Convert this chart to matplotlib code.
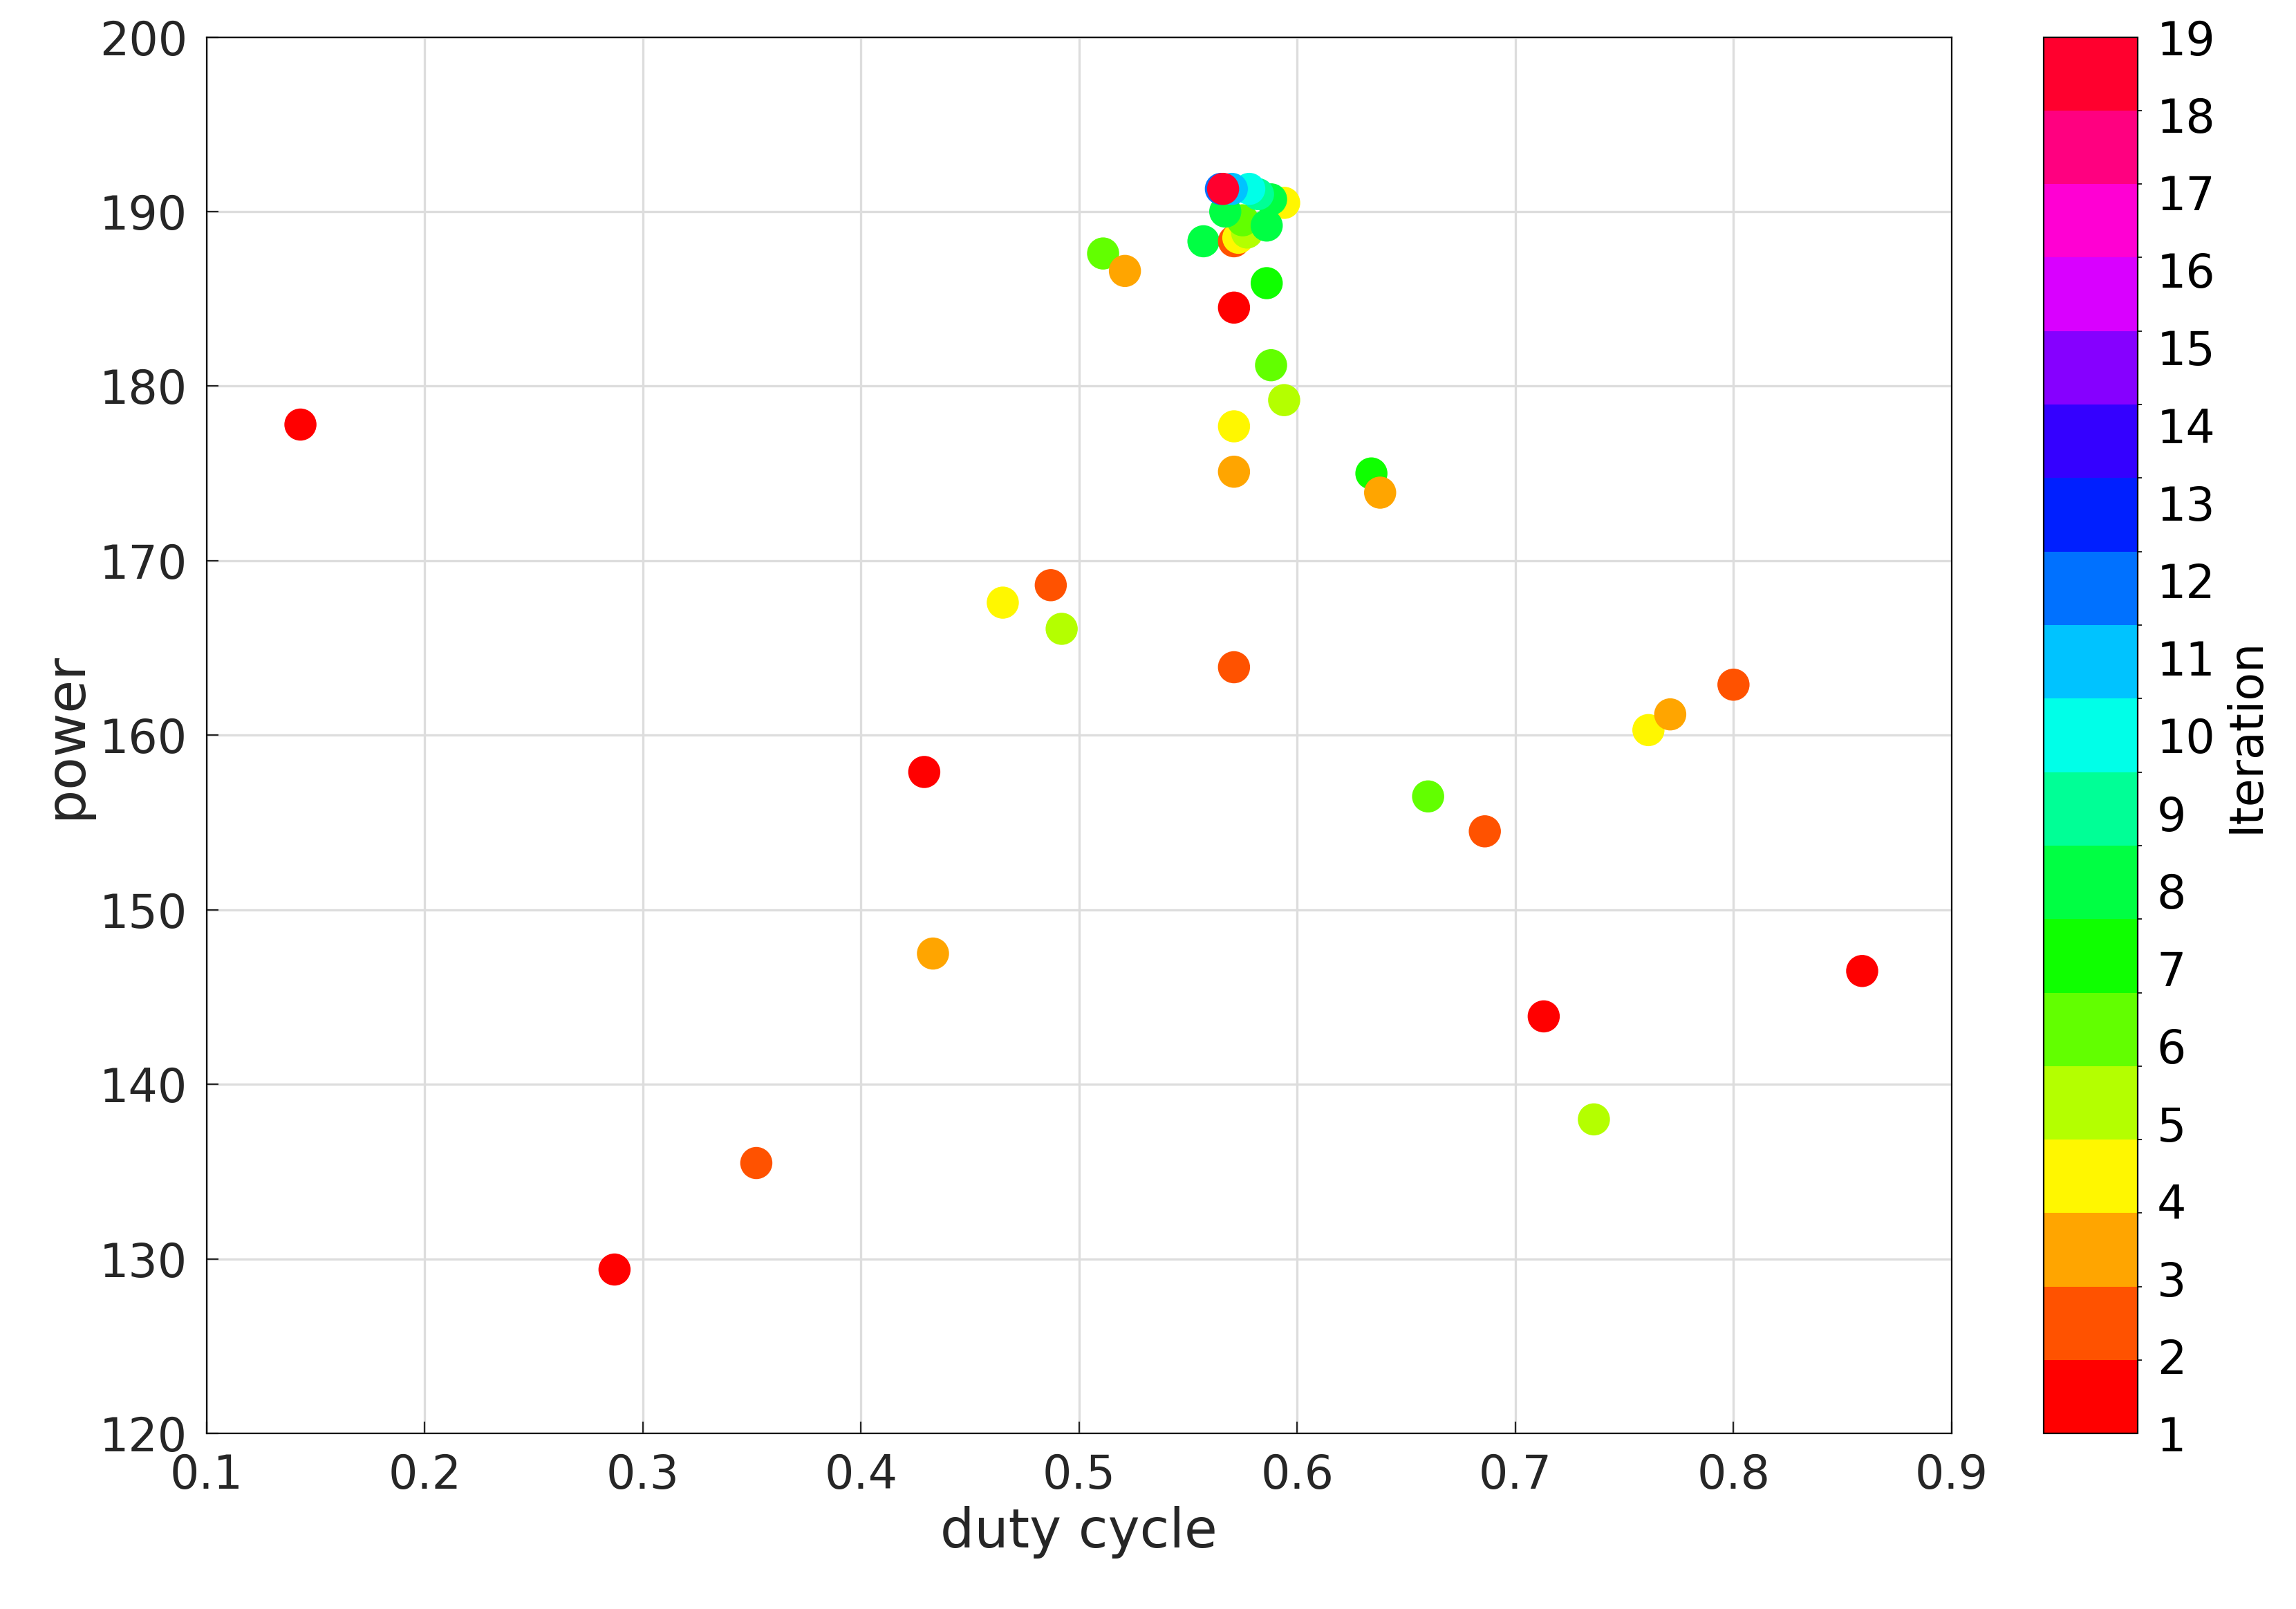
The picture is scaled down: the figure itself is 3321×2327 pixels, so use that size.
import matplotlib
matplotlib.use("Agg")
import matplotlib.pyplot as plt
import numpy as np
import colorsys
from matplotlib.colors import ListedColormap, BoundaryNorm

duty = [0.143,0.287,0.352,0.429,0.433,0.465,0.487,0.492,0.511,0.521,0.557,0.571,0.571,0.586,0.588,0.594,0.571,0.571,0.571,0.634,0.638,0.660,0.686,0.713,0.736,0.761,0.771,0.800,0.859,
        0.573,0.594,0.577,0.575,0.567,0.586,0.588,0.582,0.578,0.570,0.565,0.566]
power = [177.8,129.4,135.5,157.9,147.5,167.6,168.6,166.1,187.6,186.6,188.3,188.3,184.5,185.9,181.2,179.2,177.7,175.1,163.9,175.0,173.9,156.5,154.5,143.9,138.0,160.3,161.2,162.9,146.5,
         188.5,190.5,188.8,189.5,190.0,189.2,190.7,191.0,191.3,191.3,191.3,191.3]
iteration = [1,1,2,1,3,4,2,5,6,3,8,2,1,7,6,5,4,3,2,7,3,6,2,1,5,4,3,2,1,
             4,4,5,6,8,8,8,9,10,11,12,19]

plt.rcParams['font.family'] = ['DejaVu Sans']
fig = plt.figure(figsize=(16.605, 11.635), dpi=200)
ax = fig.add_axes([0.09, 0.109, 0.76, 0.868])
cax = fig.add_axes([0.89, 0.109, 0.041, 0.868])

hues = np.linspace(0, 0.97, 19)
cols = [colorsys.hsv_to_rgb(h, 1, 1) for h in hues]
cmap = ListedColormap(cols)
norm = BoundaryNorm(np.linspace(1, 19, 20), 19)

sc = ax.scatter(duty, power, c=iteration, cmap=cmap, norm=norm, s=280, zorder=3, edgecolors='none')
ax.set_xlim(0.1, 0.9)
ax.set_ylim(120, 200)
ax.set_xticks(np.arange(0.1, 0.91, 0.1))
ax.set_xticklabels([f"{v:.1f}" for v in np.arange(0.1, 0.91, 0.1)])
ax.grid(True, color='#dddddd', linewidth=1.2)
ax.set_axisbelow(True)
ax.tick_params(labelsize=24, direction='in', length=6, colors='#262626', pad=10)
ax.set_xlabel('duty cycle', fontsize=28, color='#262626')
ax.set_ylabel('power', fontsize=28, color='#262626')
cb = fig.colorbar(sc, cax=cax, ticks=range(1, 20))
cb.ax.tick_params(labelsize=24, direction='in', length=0, pad=10)
cb.set_label('Iteration', fontsize=24)
fig.savefig('out.png', dpi=200)
